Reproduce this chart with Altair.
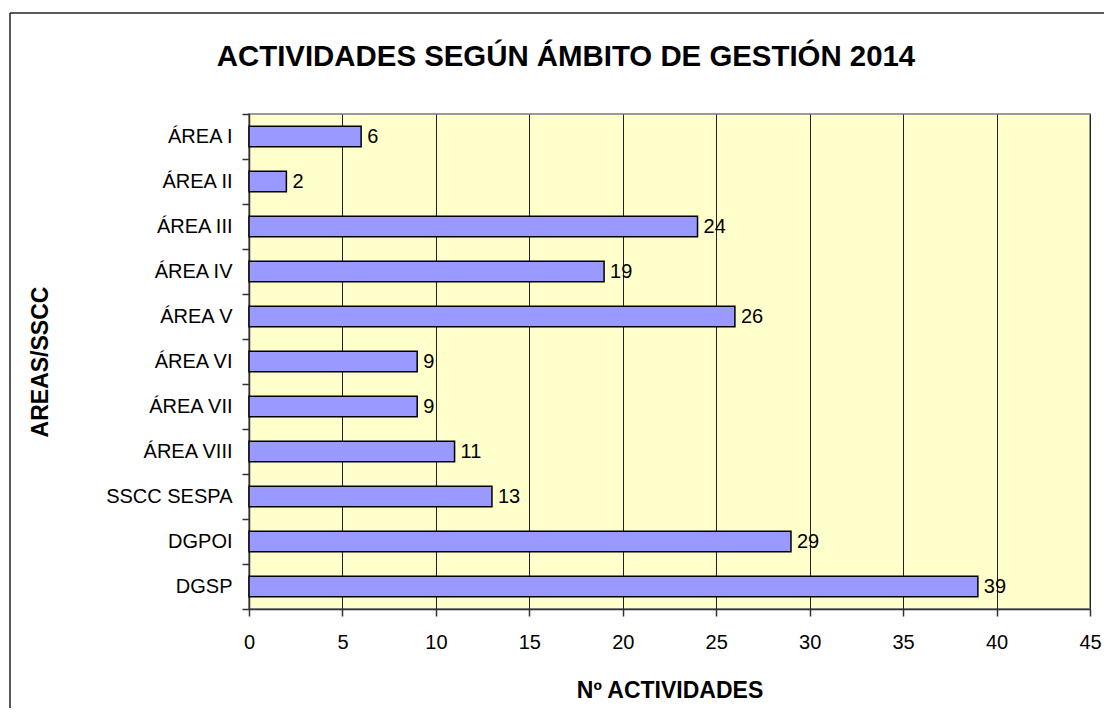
import altair as alt
import pandas as pd

categories = ["ÁREA I", "ÁREA II", "ÁREA III", "ÁREA IV", "ÁREA V", "ÁREA VI",
              "ÁREA VII", "ÁREA VIII", "SSCC SESPA", "DGPOI", "DGSP"]
values = [6, 2, 24, 19, 26, 9, 9, 11, 13, 29, 39]
x_ticks = [0, 5, 10, 15, 20, 25, 30, 35, 40, 45]
TITLE = "ACTIVIDADES SEGÚN ÁMBITO DE GESTIÓN 2014"
X_TITLE = "Nº ACTIVIDADES"
Y_TITLE = "AREAS/SSCC"

FONT = "Liberation Sans"
W, H = 841, 495

df = pd.DataFrame({"cat": categories, "val": values})

x_enc = alt.X("val:Q",
              scale=alt.Scale(domain=[0, 45], nice=False, zero=True),
              axis=alt.Axis(values=x_ticks, title=X_TITLE, grid=True,
                            gridColor="#222222", gridWidth=1,
                            domainColor="#333333", domainWidth=1.5,
                            tickColor="#333333", tickSize=7, tickWidth=1.5,
                            labelFont=FONT, labelFontSize=20, labelColor="black",
                            labelPadding=26, labelBaseline="middle",
                            labelFlush=False,
                            titleFont=FONT, titleFontSize=23, titleFontWeight="bold",
                            titleColor="black", titleY=81, titleBaseline="middle"))
y_enc = alt.Y("cat:N", sort=categories,
              scale=alt.Scale(paddingInner=0, paddingOuter=0),
              axis=alt.Axis(title=Y_TITLE, tickBand="extent",
                            domainColor="#333333", domainWidth=1.5,
                            tickColor="#333333", tickSize=7, tickWidth=1.5,
                            labelFont=FONT, labelFontSize=20, labelColor="black",
                            labelPadding=10,
                            titleFont=FONT, titleFontSize=23, titleFontWeight="bold",
                            titleColor="black", titleAngle=270, titleX=-209,
                            titleY=H / 2, titleBaseline="middle", titleAlign="center"))

base = alt.Chart(df)
bars = base.mark_bar(color="#9999FF", stroke="black", strokeWidth=1.5,
                     height=alt.RelativeBandSize(0.46)).encode(x=x_enc, y=y_enc)
labels = base.mark_text(align="left", baseline="middle", dx=6, font=FONT,
                        fontSize=20, color="black").encode(
    x="val:Q", y=alt.Y("cat:N", sort=categories), text="val:Q")

one = pd.DataFrame({"t": [TITLE]})
title = alt.Chart(one).mark_text(font=FONT, fontSize=29.4, fontWeight="bold",
                                 align="center", baseline="middle", color="black").encode(
    text="t:N", x=alt.value(317), y=alt.value(-57))
frame_top = alt.Chart(one).mark_rule(color="#222222", strokeWidth=1.5).encode(
    x=alt.value(-239), x2=alt.value(900), y=alt.value(-101))
frame_left = alt.Chart(one).mark_rule(color="#222222", strokeWidth=1.5).encode(
    x=alt.value(-239), y=alt.value(-101), y2=alt.value(700))

chart = alt.layer(bars, labels, title, frame_top, frame_left).properties(
    width=W, height=H,
    autosize="none",
    padding={"left": 241, "top": 106, "right": 14, "bottom": 99},
    background="white",
).configure_view(fill="#FFFFCC", stroke="#999999", strokeWidth=2)

chart.save("out.html", embed_options={"renderer": "svg", "actions": False})
